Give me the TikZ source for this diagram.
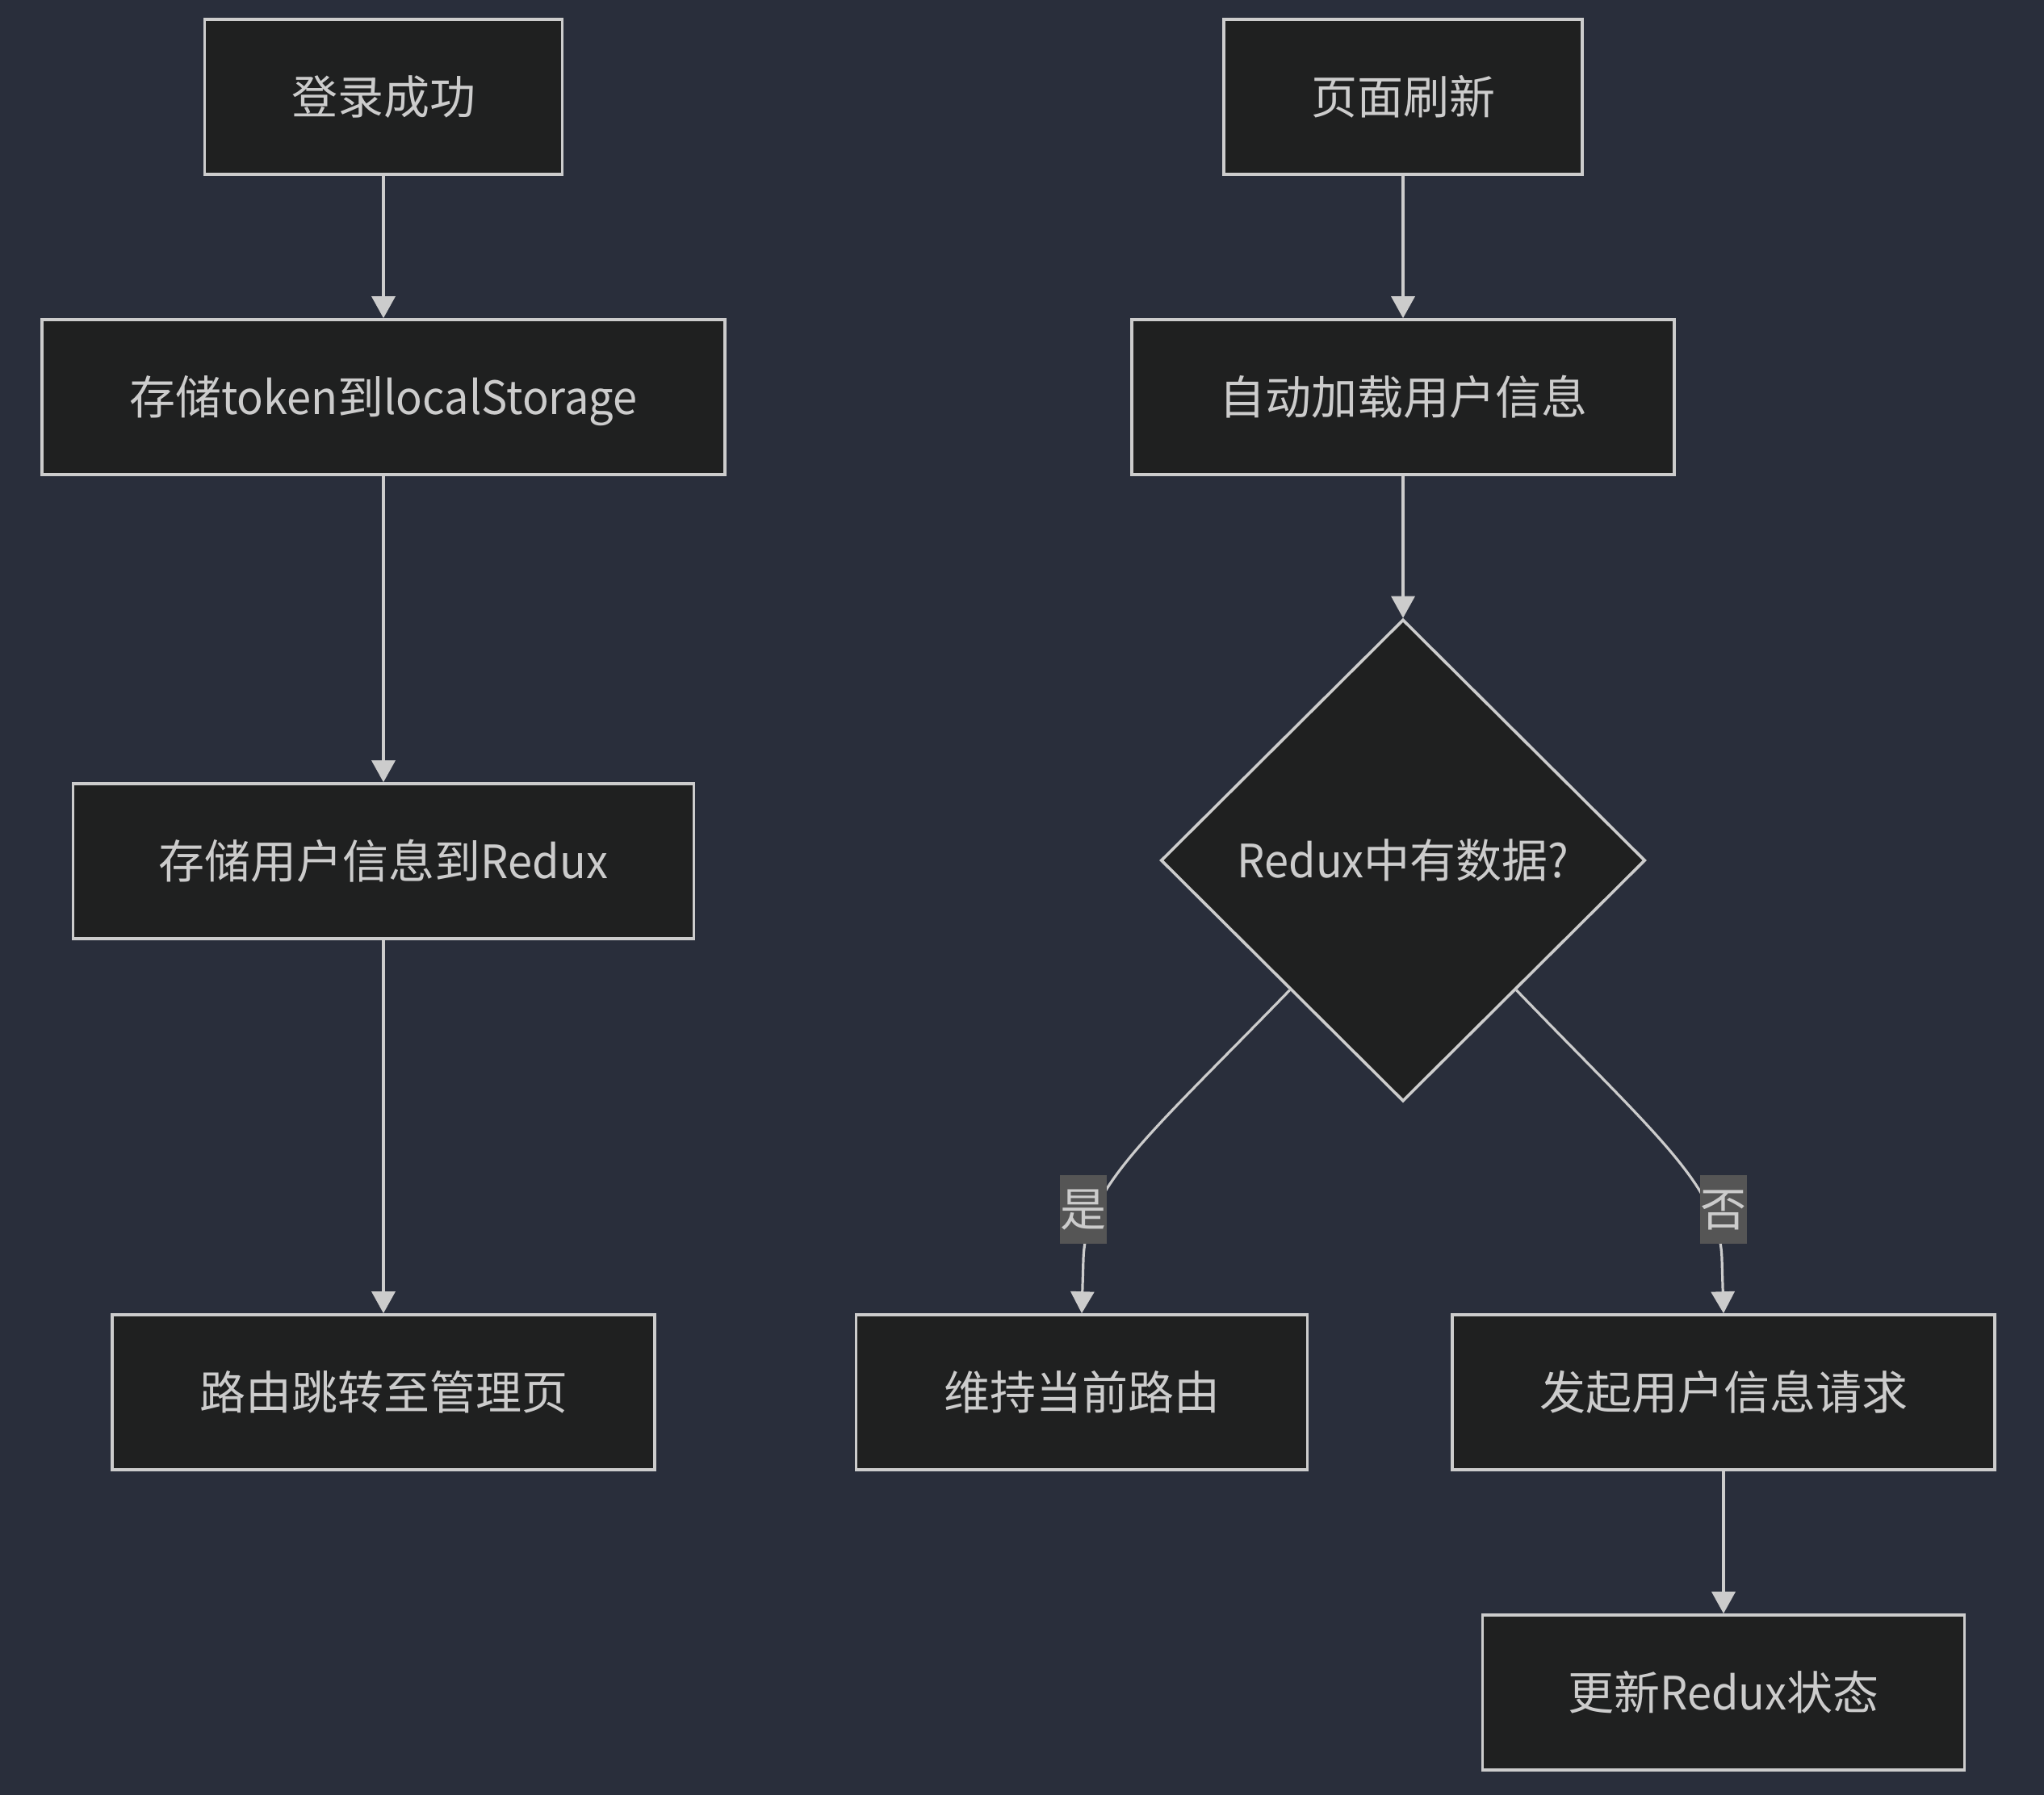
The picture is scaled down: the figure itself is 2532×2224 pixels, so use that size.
\documentclass[tikz,border=0pt]{standalone}
\usepackage{fontspec}
\newfontfamily\cjk{Noto Sans CJK SC}
\newfontfamily\lat[FakeStretch=0.95]{Noto Sans CJK SC}
\usetikzlibrary{shapes.geometric,arrows.meta,calc}
\definecolor{bgc}{RGB}{41,46,59}
\definecolor{boxc}{RGB}{31,32,32}
\definecolor{strokec}{RGB}{204,204,204}
\definecolor{textc}{RGB}{204,204,204}
\definecolor{lblc}{RGB}{85,85,85}
\tikzset{
  txt/.style={text=textc, font=\cjk\fontsize{57}{62}\selectfont, text height=52pt, text depth=9pt},
  box/.style={txt, draw=strokec, fill=boxc, line width=3.6pt, minimum height=192pt, inner sep=0pt},
  dia/.style={txt, shape=diamond, draw=strokec, fill=boxc, line width=3.6pt, inner sep=0pt,
    minimum width=600pt, minimum height=597pt},
  lbl/.style={txt, fill=lblc, inner sep=0pt, minimum width=58pt, minimum height=85pt},
  arr/.style={draw=strokec, line width=3.2pt, -{Triangle[length=27pt,width=29pt]}}
}
\begin{document}
\begin{tikzpicture}[x=1pt,y=-1pt]
\fill[bgc] (0,0) rectangle (2532,2224);
\useasboundingbox (0,0) rectangle (2532,2224);
% left column
\node[box, minimum width=443pt] (a1) at (475,120) {登录成功};
\node[box, minimum width=846pt] (a2) at (475,492) {存储{\lat token}到{\lat localStorage}};
\node[box, minimum width=769pt] (a3) at (475,1067) {存储用户信息到{\lat Redux}};
\node[box, minimum width=672pt] (a4) at (475,1725) {路由跳转至管理页};
% right part
\node[box, minimum width=444pt] (b1) at (1738,120) {页面刷新};
\node[box, minimum width=672pt] (b2) at (1738,492) {自动加载用户信息};
\node[dia] (d) at (1738,1066) {{\lat Redux}中有数据{\lat ?}};
\node[box, minimum width=559pt] (c1) at (1340,1725) {维持当前路由};
\node[box, minimum width=672pt] (c2) at (2135,1725) {发起用户信息请求};
\node[box, minimum width=597pt] (c3) at (2135,2097) {更新{\lat Redux}状态};
% connectors
\draw[arr] (a1.south) -- (a2.north);
\draw[arr] (a2.south) -- (a3.north);
\draw[arr] (a3.south) -- (a4.north);
\draw[arr] (b1.south) -- (b2.north);
\draw[arr] (b2.south) -- (d.north);
\draw[arr] ($(d.south west)!0.07!(d.south)$) .. controls (1420,1410) and (1345,1470) .. (1342,1560) -- (c1.north);
\draw[arr] ($(d.south east)!0.07!(d.south)$) .. controls (2055,1410) and (2130,1470) .. (2133,1560) -- (c2.north);
\draw[arr] (c2.south) -- (c3.north);
% edge labels
\node[lbl] (yes) at (1342,1498) {是};
\node[lbl] (no) at (2135,1498) {否};
\end{tikzpicture}
\end{document}
